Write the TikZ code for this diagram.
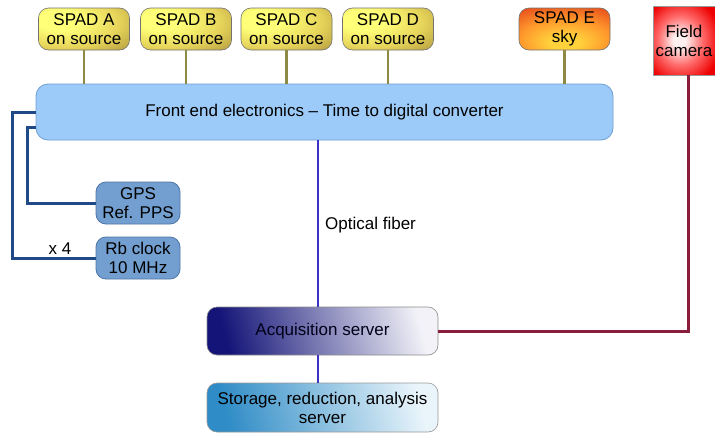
\documentclass[tikz,border=0pt]{standalone}
\usepackage{fontspec}
\setmainfont{Liberation Sans}
\usetikzlibrary{positioning}
\definecolor{feFill}{HTML}{9DCBF9}
\definecolor{feDraw}{HTML}{6E9FD4}
\definecolor{gpsFill}{HTML}{729FCF}
\definecolor{gpsDraw}{HTML}{4F76A8}
\definecolor{blueWire}{HTML}{204A87}
\definecolor{oliveWire}{HTML}{8E8A45}
\definecolor{fiberWire}{HTML}{3A32C4}
\definecolor{redWire}{HTML}{8A1C3C}
\definecolor{spadL}{HTML}{FFFF78}
\definecolor{spadM}{HTML}{E6D45A}
\definecolor{spadR}{HTML}{9A7E32}
\definecolor{skyC}{HTML}{FFD23C}
\definecolor{skyM}{HTML}{FF9A2C}
\definecolor{skyR}{HTML}{E23A18}
\definecolor{camC}{HTML}{FFF0F0}
\definecolor{camM}{HTML}{FF6A6A}
\definecolor{camR}{HTML}{EE0000}
\definecolor{acqL}{HTML}{141478}
\definecolor{acqR}{HTML}{F2F2F8}
\definecolor{stoL}{HTML}{2F8CC6}
\definecolor{stoR}{HTML}{EAF5FB}
\pgfdeclareradialshading{spadshade}{\pgfpoint{-16bp}{12bp}}{color(0bp)=(spadL); color(12bp)=(spadL); color(30bp)=(spadM); color(54bp)=(spadR); color(95bp)=(spadR)}
\pgfdeclareradialshading{skyshade}{\pgfpoint{0bp}{-18bp}}{color(0bp)=(skyC); color(8bp)=(skyC); color(24bp)=(skyM); color(46bp)=(skyR); color(90bp)=(skyR)}
\pgfdeclareradialshading{camshade}{\pgfpoint{-4bp}{0bp}}{color(0bp)=(camC); color(5bp)=(camC); color(18bp)=(camM); color(32bp)=(camR); color(80bp)=(camR)}
\tikzset{
  txt/.style={font=\fontsize{17}{19}\selectfont, align=center, inner sep=0pt},
  spadbox/.style={txt, rectangle, rounded corners=10pt, draw=black!55, line width=0.6pt,
    minimum width=91pt, minimum height=42pt, shade, shading=spadshade},
  skybox/.style={txt, rectangle, rounded corners=10pt, draw=black!55, line width=0.6pt,
    minimum width=91pt, minimum height=42pt, shade, shading=skyshade},
  cambox/.style={txt, rectangle, draw=black!40, line width=0.6pt,
    minimum width=62pt, minimum height=69pt, shade, shading=camshade},
  febox/.style={txt, rectangle, rounded corners=12pt, draw=feDraw, line width=0.8pt,
    fill=feFill, minimum width=577pt, minimum height=56pt},
  gpsbox/.style={txt, rectangle, rounded corners=10pt, draw=gpsDraw, line width=0.8pt,
    fill=gpsFill, minimum width=84pt, minimum height=42pt},
  acqbox/.style={txt, rectangle, rounded corners=10pt, draw=black!45, line width=0.6pt,
    minimum width=231pt, minimum height=48pt, text=black!90!blue,
    left color=acqL, right color=acqR, shading angle=105},
  stobox/.style={txt, rectangle, rounded corners=10pt, draw=black!40, line width=0.6pt,
    minimum width=231pt, minimum height=49pt,
    left color=stoL, right color=stoR, shading angle=105},
  olivewire/.style={draw=oliveWire, line width=2.6pt},
  bluewire/.style={draw=blueWire, line width=3pt},
  fiberwire/.style={draw=fiberWire, line width=2.6pt},
  redwire/.style={draw=redWire, line width=3pt},
}
\begin{document}
\begin{tikzpicture}[x=1pt,y=-1pt]
\useasboundingbox (0,0) rectangle (715,434);
\clip (0,0) rectangle (715,434);
\fill[white] (0,0) rectangle (715,434);

\coordinate (k1) at (12,112);
\coordinate (k2) at (27,127);
\coordinate (ox) at (318,0);
\coordinate (fx) at (688,0);

\node[spadbox] (spadA) at (84,29) {SPAD A\\on source};
\node[spadbox] (spadB) at (186,29) {SPAD B\\on source};
\node[spadbox] (spadC) at (286.5,29) {SPAD C\\on source};
\node[spadbox] (spadD) at (388,29) {SPAD D\\on source};
\node[skybox] (spadE) at (564.5,29) {SPAD E\\sky};
\node[cambox] (cam) at (684,40.5) {Field\\camera};

\node[febox] (fe) at (324.5,112) {Front end electronics -- Time to digital converter};
\node[gpsbox] (gps) at (138,203) {GPS\\Ref. PPS};
\node[gpsbox] (rb) at (138,258) {Rb clock\\10 MHz};
\node[acqbox] (acq) at (322.5,331) {Acquisition server};
\node[stobox] (sto) at (322.5,407.5) {Storage, reduction, analysis\\server};

\draw[olivewire] (spadA.south) -- (spadA.south |- fe.north);
\draw[olivewire] (spadB.south) -- (spadB.south |- fe.north);
\draw[olivewire] (spadC.south) -- (spadC.south |- fe.north);
\draw[olivewire] (spadD.south) -- (spadD.south |- fe.north);
\draw[olivewire] (spadE.south) -- (spadE.south |- fe.north);

\draw[bluewire] (rb.west) -| (k1) -- (fe.west |- k1);
\draw[bluewire] (gps.west) -| (k2) -- (fe.west |- k2);
\node[txt] (x4) at (60,249) {x 4};

\draw[fiberwire] (fe.south -| ox) -- (acq.north -| ox);
\node[txt, anchor=west] (fiber) at (325,225) {Optical fiber};
\draw[fiberwire] (acq.south -| ox) -- (sto.north -| ox);

\draw[redwire] (acq.east) -| (cam.south -| fx);
\end{tikzpicture}
\end{document}
